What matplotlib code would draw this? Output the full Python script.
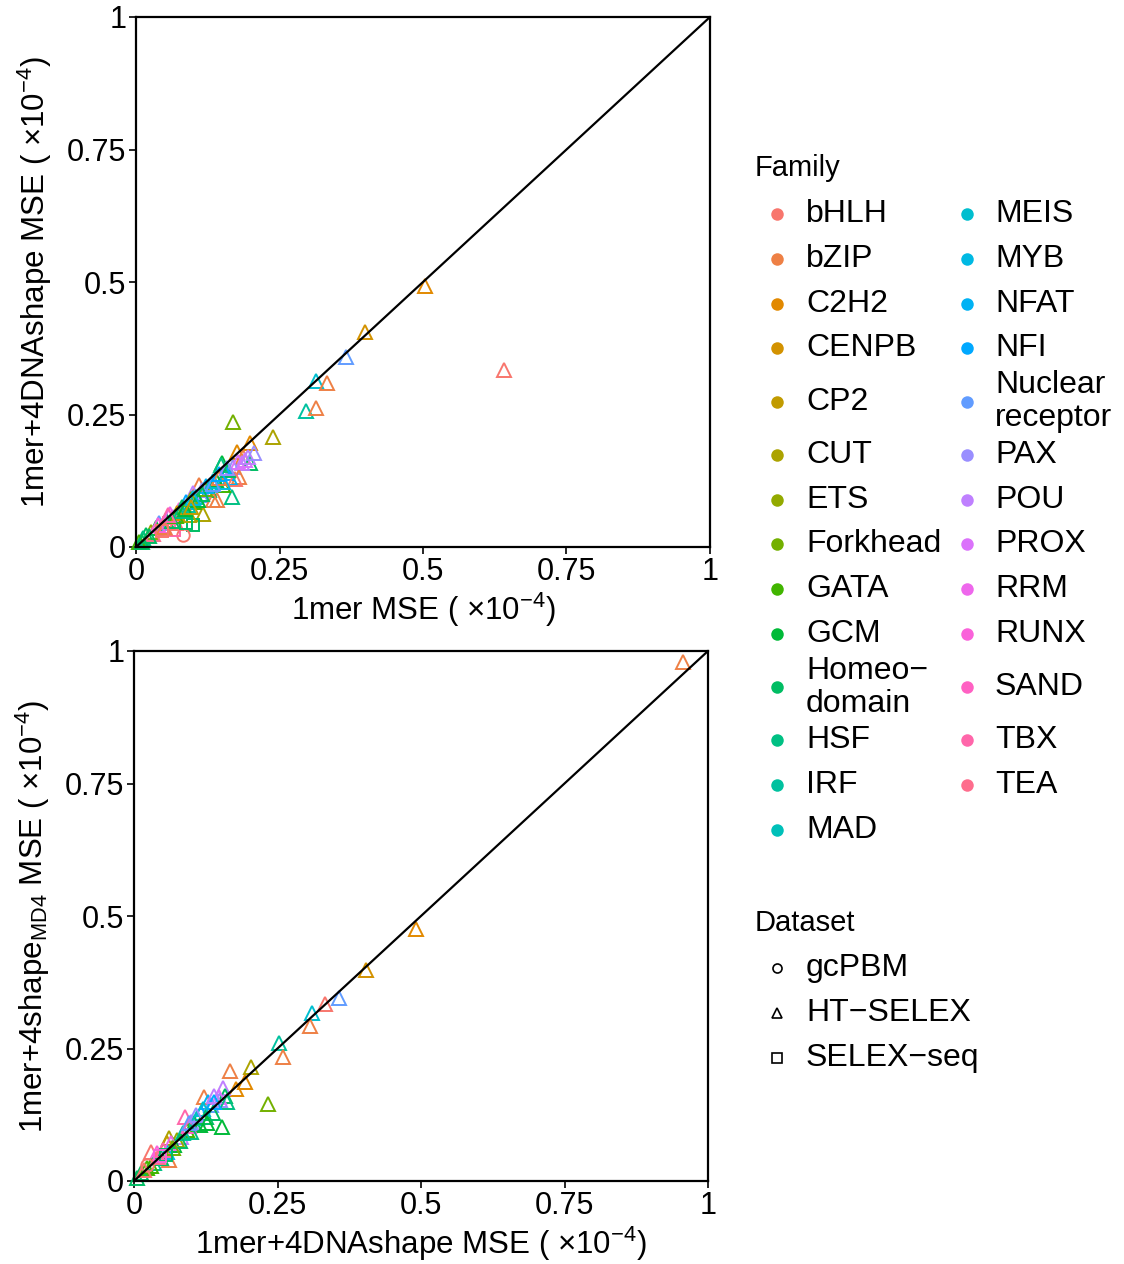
import numpy as np
import matplotlib
matplotlib.use("Agg")
import matplotlib.pyplot as plt
from matplotlib.lines import Line2D

plt.rcParams['font.family'] = ['Liberation Sans', 'DejaVu Sans']
plt.rcParams['mathtext.fontset'] = 'custom'
plt.rcParams['mathtext.rm'] = 'Liberation Sans'
plt.rcParams['mathtext.default'] = 'regular'

families = ['bHLH', 'bZIP', 'C2H2', 'CENPB', 'CP2', 'CUT', 'ETS', 'Forkhead', 'GATA',
            'GCM', 'Homeodomain', 'HSF', 'IRF', 'MAD', 'MEIS', 'MYB', 'NFAT', 'NFI',
            'Nuclear receptor', 'PAX', 'POU', 'PROX', 'RRM', 'RUNX', 'SAND', 'TBX', 'TEA']
family_labels = ['bHLH', 'bZIP', 'C2H2', 'CENPB', 'CP2', 'CUT', 'ETS', 'Forkhead', 'GATA',
                 'GCM', 'Homeo\u2212\ndomain', 'HSF', 'IRF', 'MAD', 'MEIS', 'MYB', 'NFAT', 'NFI',
                 'Nuclear\nreceptor', 'PAX', 'POU', 'PROX', 'RRM', 'RUNX', 'SAND', 'TBX', 'TEA']
datasets = ['gcPBM', 'HT-SELEX', 'SELEX-seq']
dataset_labels = ['gcPBM', 'HT\u2212SELEX', 'SELEX\u2212seq']

# top panel: 1mer vs 1mer+4DNAshape
top_family = ['bHLH', 'C2H2', 'CENPB', 'Nuclear receptor', 'MEIS', 'bZIP', 'IRF', 'bZIP', 'CUT',
              'Forkhead', 'C2H2', 'C2H2', 'bZIP', 'GCM', 'Homeodomain', 'POU', 'PAX', 'bZIP',
              'NFAT', 'HSF', 'bZIP', 'GATA', 'Nuclear receptor', 'CUT', 'Homeodomain', 'bHLH',
              'TBX', 'HSF', 'PROX', 'NFI', 'bHLH', 'MYB', 'GCM', 'bZIP', 'Homeodomain',
              'Nuclear receptor', 'POU', 'bZIP', 'GATA', 'NFI', 'RUNX', 'POU', 'Homeodomain',
              'Nuclear receptor', 'GCM', 'ETS', 'Homeodomain', 'HSF', 'GATA', 'TBX', 'CUT', 'bHLH',
              'Homeodomain', 'IRF', 'MAD', 'PAX', 'RRM', 'SAND', 'Homeodomain', 'ETS', 'Forkhead',
              'GCM', 'NFAT', 'MEIS', 'bZIP', 'Homeodomain', 'PROX', 'POU', 'PAX', 'CENPB', 'bHLH',
              'TEA', 'RUNX', 'Homeodomain', 'GATA', 'HSF', 'Homeodomain', 'Nuclear receptor',
              'Homeodomain', 'bZIP', 'TBX', 'GCM', 'MYB', 'NFI', 'PAX', 'bHLH', 'Homeodomain', 'CP2']
top_dataset = ['HT-SELEX'] * len(top_family)
top_dataset[24] = 'SELEX-seq'
top_dataset[25] = 'gcPBM'
top_dataset[26] = 'SELEX-seq'
top_dataset[49] = 'SELEX-seq'
top_dataset[58] = 'SELEX-seq'
top_dataset[85] = 'SELEX-seq'
top_x = [0.641, 0.503, 0.399, 0.366, 0.314, 0.332, 0.296, 0.314, 0.239,
         0.169, 0.199, 0.176, 0.186, 0.150, 0.199, 0.184, 0.169, 0.180,
         0.164, 0.167, 0.141, 0.152, 0.129, 0.117, 0.099, 0.082,
         0.057, 0.148, 0.190, 0.157, 0.172, 0.152, 0.139, 0.110, 0.127,
         0.113, 0.099, 0.134, 0.101, 0.087, 0.075, 0.064, 0.052,
         0.040, 0.035, 0.026, 0.017, 0.012, 0.005, 0.066, 0.092, 0.070,
         0.080, 0.090, 0.105, 0.115, 0.060, 0.045, 0.087, 0.095, 0.120,
         0.108, 0.122, 0.135, 0.145, 0.160, 0.178, 0.195, 0.205, 0.072, 0.050,
         0.030, 0.038, 0.022, 0.070, 0.078, 0.115, 0.135,
         0.062, 0.048, 0.055, 0.085, 0.100, 0.145, 0.158, 0.045, 0.010, 0.095]
top_y = [0.334, 0.492, 0.406, 0.359, 0.313, 0.309, 0.257, 0.262, 0.208,
         0.236, 0.196, 0.179, 0.170, 0.158, 0.158, 0.158, 0.151, 0.132,
         0.130, 0.095, 0.089, 0.117, 0.117, 0.062, 0.042, 0.023,
         0.045, 0.155, 0.165, 0.139, 0.128, 0.123, 0.126, 0.117, 0.108,
         0.098, 0.102, 0.089, 0.085, 0.085, 0.070, 0.057, 0.051,
         0.045, 0.036, 0.028, 0.023, 0.017, 0.009, 0.032, 0.060, 0.045,
         0.075, 0.080, 0.095, 0.108, 0.062, 0.040, 0.045, 0.090, 0.110,
         0.088, 0.115, 0.125, 0.130, 0.146, 0.160, 0.170, 0.178, 0.065, 0.035,
         0.025, 0.042, 0.020, 0.058, 0.068, 0.100, 0.118,
         0.050, 0.038, 0.060, 0.072, 0.092, 0.137, 0.150, 0.030, 0.010, 0.075]

# bottom panel: 1mer+4DNAshape vs 1mer+4shape(MD4)
bot_family = ['bZIP', 'C2H2', 'CENPB', 'Nuclear receptor', 'bHLH', 'MEIS', 'bZIP', 'IRF', 'bZIP',
              'CUT', 'Forkhead', 'bZIP', 'C2H2', 'C2H2', 'GCM', 'POU', 'PAX', 'Homeodomain', 'TBX',
              'bZIP', 'NFAT', 'bHLH', 'CUT', 'bZIP', 'PROX', 'HSF', 'Nuclear receptor', 'NFI',
              'Homeodomain', 'GATA', 'POU', 'GCM', 'MYB', 'Homeodomain', 'HSF', 'GATA',
              'Homeodomain', 'CP2', 'RUNX', 'Homeodomain', 'PAX', 'MAD', 'Homeodomain', 'GCM',
              'ETS', 'IRF', 'TBX', 'RRM', 'SAND', 'Homeodomain', 'NFI', 'MEIS', 'GATA', 'bHLH',
              'HSF', 'Homeodomain', 'Forkhead', 'Nuclear receptor', 'PAX', 'TEA', 'bHLH',
              'Homeodomain', 'RUNX', 'GCM', 'POU']
bot_dataset = ['HT-SELEX'] * len(bot_family)
bot_dataset[60] = 'gcPBM'
bot_dataset[61] = 'SELEX-seq'
bot_dataset[62] = 'SELEX-seq'
bot_x = [0.956, 0.491, 0.404, 0.357, 0.333, 0.310, 0.307, 0.253, 0.259,
         0.204, 0.233, 0.167, 0.193, 0.178, 0.153, 0.155, 0.150, 0.158, 0.089,
         0.122, 0.129, 0.029, 0.061, 0.061, 0.148, 0.162, 0.134, 0.117,
         0.105, 0.092, 0.082, 0.070, 0.057, 0.047, 0.035, 0.023,
         0.012, 0.058, 0.040, 0.006, 0.100, 0.110, 0.125, 0.115,
         0.075, 0.085, 0.050, 0.065, 0.095, 0.138, 0.140, 0.120, 0.030, 0.018,
         0.100, 0.080, 0.068, 0.095, 0.108, 0.042, 0.023,
         0.055, 0.045, 0.128, 0.140]
bot_y = [0.979, 0.475, 0.398, 0.345, 0.334, 0.317, 0.292, 0.260, 0.234,
         0.215, 0.145, 0.208, 0.187, 0.174, 0.102, 0.176, 0.153, 0.160, 0.121,
         0.158, 0.149, 0.055, 0.081, 0.040, 0.159, 0.149, 0.143, 0.128,
         0.109, 0.096, 0.083, 0.068, 0.055, 0.043, 0.034, 0.025,
         0.015, 0.072, 0.053, 0.006, 0.112, 0.118, 0.120, 0.105,
         0.078, 0.090, 0.058, 0.072, 0.104, 0.128, 0.150, 0.135, 0.028, 0.020,
         0.092, 0.075, 0.062, 0.110, 0.125, 0.045, 0.030,
         0.050, 0.048, 0.110, 0.160]


def hue_pal(n, c=100.0, l=65.0):
    # same hues as ggplot2's default discrete scale
    hues = np.linspace(15, 375, n + 1)[:-1]
    out = []
    un, vn = 0.19784, 0.46834
    for h in hues:
        hr = np.deg2rad(h)
        u, v = c * np.cos(hr), c * np.sin(hr)
        Y = ((l + 16) / 116) ** 3
        up = u / (13 * l) + un
        vp = v / (13 * l) + vn
        X = Y * 9 * up / (4 * vp)
        Z = Y * (12 - 3 * up - 20 * vp) / (4 * vp)
        rgb = np.array([3.2404542 * X - 1.5371385 * Y - 0.4985314 * Z,
                        -0.9692660 * X + 1.8760108 * Y + 0.0415560 * Z,
                        0.0556434 * X - 0.2040259 * Y + 1.0572252 * Z])
        rgb = np.where(rgb > 0.0031308, 1.055 * np.abs(rgb) ** (1 / 2.4) - 0.055, 12.92 * rgb)
        out.append(tuple(np.clip(rgb, 0, 1)))
    return out


colors = dict(zip(families, hue_pal(len(families))))
markers = {'gcPBM': 'o', 'HT-SELEX': '^', 'SELEX-seq': 's'}
msize = {'gcPBM': 9, 'HT-SELEX': 10, 'SELEX-seq': 8.5}

W, H = 1124, 1264
fig = plt.figure(figsize=(W / 100, H / 100), dpi=100)
ax1 = fig.add_axes([136 / W, 1 - 547 / H, 574 / W, 530 / H])
ax2 = fig.add_axes([134 / W, 1 - 1181 / H, 574 / W, 530 / H])

ticks = [0, 0.25, 0.5, 0.75, 1]
tick_labels = ['0', '0.25', '0.5', '0.75', '1']
FS = 23


def draw_panel(ax, fam, ds, xs, ys, xlabel, ylabel):
    for f, d, x, y in zip(fam, ds, xs, ys):
        ax.plot(x, y, marker=markers[d], ms=msize[d], mfc='none', mec=colors[f],
                mew=1.4, ls='none', clip_on=False)
    ax.axline((0, 0), slope=1, color='black', lw=1.6, zorder=5)
    ax.set_xlim(0, 1)
    ax.set_ylim(0, 1)
    ax.set_xticks(ticks)
    ax.set_xticklabels(tick_labels)
    ax.set_yticks(ticks)
    ax.set_yticklabels(tick_labels)
    ax.tick_params(labelsize=FS - 1, length=5, width=1.2, color='black', pad=2)
    for s in ax.spines.values():
        s.set_linewidth(1.6)
    ax.set_xlabel(xlabel, fontsize=FS - 0.5, labelpad=3)
    ax.set_ylabel(ylabel, fontsize=FS - 0.5, labelpad=9)


unit = '( \u00d710$^{\u22124}$)'
draw_panel(ax1, top_family, top_dataset, top_x, top_y,
           '1mer MSE ' + unit, '1mer+4DNAshape MSE ' + unit)
draw_panel(ax2, bot_family, bot_dataset, bot_x, bot_y,
           '1mer+4DNAshape MSE ' + unit, '1mer+4shape$_{MD4}$ MSE ' + unit)


# legends drawn by hand so that rows line up like ggplot's
def fx(px):
    return px / W


def fy(py):
    return 1 - py / H


fig.text(fx(755), fy(168), 'Family', fontsize=21, va='center', ha='left')
row_h = [44.8] * 14
row_h[4] = 61.6
row_h[10] = 61.6
centers = []
y = 214 - row_h[0] / 2
for h in row_h:
    centers.append(y + h / 2)
    y += h
for i, (f, lab) in enumerate(zip(families, family_labels)):
    col, row = divmod(i, 14)
    dx = 777 if col == 0 else 967
    tx = 806 if col == 0 else 995
    cy = centers[row]
    fig.add_artist(Line2D([fx(dx)], [fy(cy)], transform=fig.transFigure, marker='o',
                          ms=9, color=colors[f], mec='none', ls='none'))
    fig.text(fx(tx), fy(cy), lab, fontsize=FS, va='center', ha='left', linespacing=1.12)

fig.text(fx(755), fy(923), 'Dataset', fontsize=21, va='center', ha='left')
for k, (d, lab) in enumerate(zip(datasets, dataset_labels)):
    cy = 968 + 44.8 * k
    fig.add_artist(Line2D([fx(777)], [fy(cy)], transform=fig.transFigure,
                          marker=markers[d], ms=6.5, mfc='none', mec='black', mew=1.2, ls='none'))
    fig.text(fx(806), fy(cy), lab, fontsize=FS, va='center', ha='left')

fig.savefig('out.png', dpi=100)
